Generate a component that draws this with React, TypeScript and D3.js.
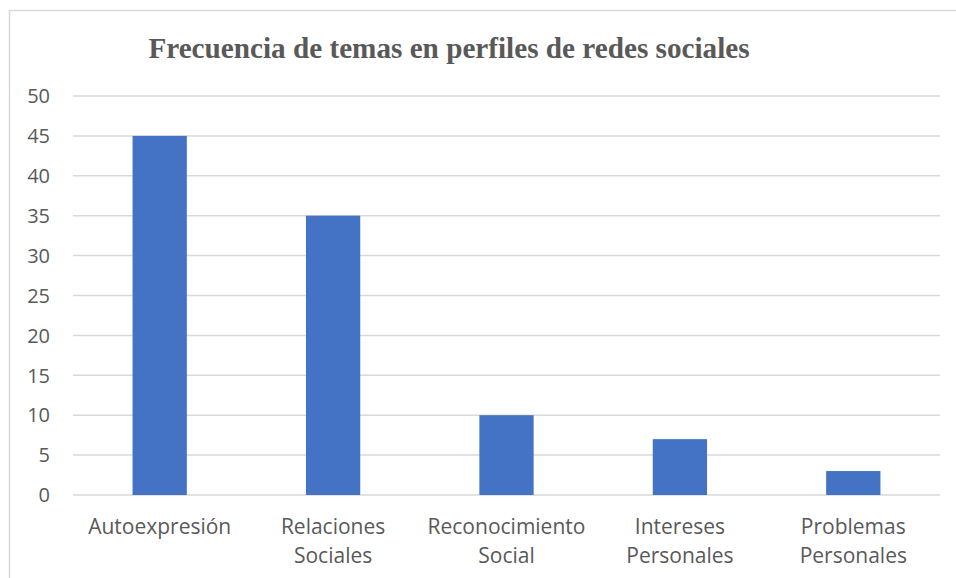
import React from "react";
import * as d3 from "d3";

const categories: string[][] = [
  ["Autoexpresión"],
  ["Relaciones", "Sociales"],
  ["Reconocimiento", "Social"],
  ["Intereses", "Personales"],
  ["Problemas", "Personales"],
];
const values = [45, 35, 10, 7, 3];
const yTicks = [0, 5, 10, 15, 20, 25, 30, 35, 40, 45, 50];
const title = "Frecuencia de temas en perfiles de redes sociales";

export default function App() {
  const W = 956, H = 578;
  const left = 73, right = 940, top = 96, bottom = 495;
  const x = d3.scaleBand<number>().domain(d3.range(values.length)).range([left, right]).padding(0);
  const y = d3.scaleLinear().domain([0, 50]).range([bottom, top]);
  const bw = x.bandwidth() * 0.313;
  const txt = "#595959";
  const font = "'Open Sans', sans-serif";
  return (
    <svg width={W} height={H} style={{ position: "absolute", left: 0, top: 0, background: "#fff" }}>
      <rect x={9.5} y={10.5} width={980} height={600} fill="#fff" stroke="#d9d9d9" strokeWidth={1.5} />
      <text x={449} y={58} textAnchor="middle" fontFamily="'Liberation Serif', 'Times New Roman', serif" fontWeight="bold" fontSize={29.2} fill={txt}>
        {title}
      </text>
      {yTicks.map((t) => (
        <g key={t}>
          <line x1={left} x2={right} y1={y(t)} y2={y(t)} stroke="#d9d9d9" strokeWidth={1.5} />
          <text x={50} y={y(t)} dy="0.36em" textAnchor="end" fontFamily={font} fontSize={20} fill={txt}>
            {t}
          </text>
        </g>
      ))}
      {values.map((v, i) => (
        <rect key={i} x={x(i)! + x.bandwidth() / 2 - bw / 2} y={y(v)} width={bw} height={y(0) - y(v)} fill="#4472C4" />
      ))}
      {categories.map((lines, i) => (
        <text key={i} textAnchor="middle" fontFamily={font} fontSize={21} fill={txt}>
          {lines.map((l, j) => (
            <tspan key={j} x={x(i)! + x.bandwidth() / 2} y={534 + j * 28.5}>
              {l}
            </tspan>
          ))}
        </text>
      ))}
    </svg>
  );
}
